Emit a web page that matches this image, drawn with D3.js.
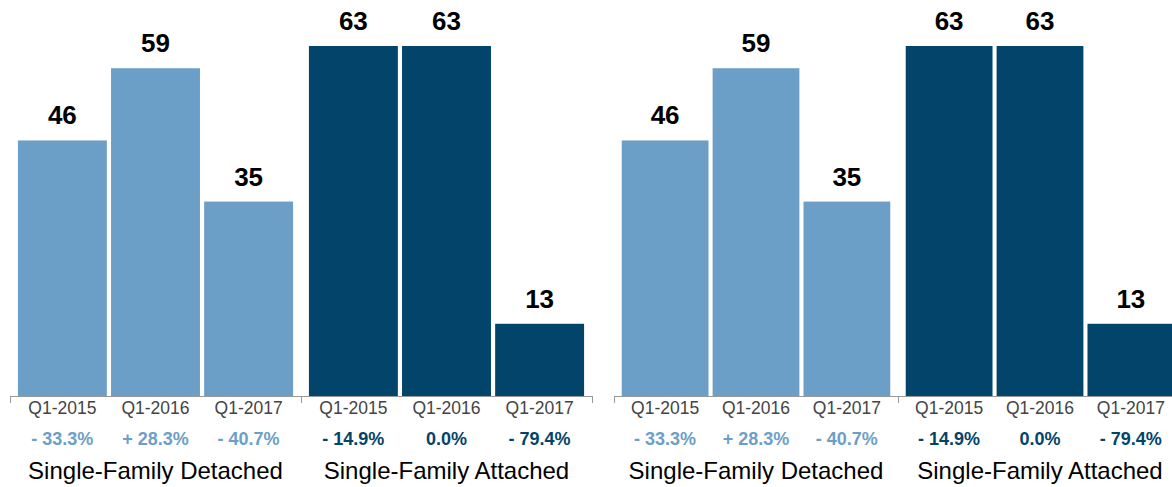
<!DOCTYPE html>
<html lang="en">
	<head>
		<meta charset="utf-8">
		<title>Single-family sales by quarter</title>
		<script src="https://d3js.org/d3.v7.min.js"></script>
		<style type="text/css">
		body { margin: 0; background: #fff; }
		text { font-family: "Liberation Sans", Arial, Helvetica, sans-serif; }
		</style>
	</head>
	<body>
		<script type="text/javascript">

			//Data
			var groups = ["Single-Family Detached", "Single-Family Attached"];
			var quarters = ["Q1-2015", "Q1-2016", "Q1-2017"];
			var detachedValues = [46, 59, 35];
			var attachedValues = [63, 63, 13];
			var detachedChange = ["- 33.3%", "+ 28.3%", "- 40.7%"];
			var attachedChange = ["- 14.9%", "0.0%", "- 79.4%"];
			var groupColors = ["#6c9fc8", "#03446a"];

			var rows = [
				{ group: groups[0], values: detachedValues, change: detachedChange, color: groupColors[0] },
				{ group: groups[1], values: attachedValues, change: attachedChange, color: groupColors[1] }
			];

			//Width and height
			var w = 1172;
			var h = 487;
			var baseY = 396;

			var svg = d3.select("body")
						.append("svg")
						.attr("width", w)
						.attr("height", h);

			//Same vertical scale for both panels
			var y = d3.scaleLinear()
						.domain([0, 63])
						.range([baseY, 46]);

			//The picture has the same chart twice, the second one a bit narrower
			var panels = [
				{ x0: 10, width: 582 },
				{ x0: 614, width: 568 }
			];

			panels.forEach(function(p) {

				var gx = d3.scaleBand()
							.domain(groups)
							.range([p.x0, p.x0 + p.width]);

				var qx = d3.scaleBand()
							.domain(quarters)
							.range([0, gx.bandwidth()])
							.paddingInner(0.045)
							.paddingOuter(0.085);

				var panel = svg.append("g");

				var grp = panel.selectAll("g.grp")
							.data(rows)
							.enter()
							.append("g")
							.attr("class", "grp")
							.attr("transform", function(d) { return "translate(" + gx(d.group) + ",0)"; });

				//bars
				grp.selectAll("rect")
					.data(function(d) {
						return d.values.map(function(v, i) { return { q: quarters[i], v: v, color: d.color }; });
					})
					.enter()
					.append("rect")
					.attr("x", function(d) { return qx(d.q); })
					.attr("y", function(d) { return y(d.v); })
					.attr("width", qx.bandwidth())
					.attr("height", function(d) { return baseY - y(d.v); })
					.style("fill", function(d) { return d.color; });

				//value on top
				grp.selectAll("text.val")
					.data(function(d) { return d.values.map(function(v, i) { return { q: quarters[i], v: v }; }); })
					.enter()
					.append("text")
					.attr("class", "val")
					.attr("x", function(d) { return qx(d.q) + qx.bandwidth() / 2; })
					.attr("y", function(d) { return y(d.v) - 16; })
					.attr("text-anchor", "middle")
					.style("font-size", "26px")
					.style("font-weight", "bold")
					.style("fill", "#000")
					.text(function(d) { return d.v; });

				//quarter labels
				grp.selectAll("text.q")
					.data(quarters)
					.enter()
					.append("text")
					.attr("class", "q")
					.attr("x", function(d) { return qx(d) + qx.bandwidth() / 2; })
					.attr("y", 414)
					.attr("text-anchor", "middle")
					.style("font-size", "17.5px")
					.style("fill", "#444")
					.text(function(d) { return d; });

				//percent change
				grp.selectAll("text.pct")
					.data(function(d) { return d.change.map(function(c, i) { return { q: quarters[i], c: c, color: d.color }; }); })
					.enter()
					.append("text")
					.attr("class", "pct")
					.attr("x", function(d) { return qx(d.q) + qx.bandwidth() / 2; })
					.attr("y", 445)
					.attr("text-anchor", "middle")
					.style("font-size", "18px")
					.style("font-weight", "bold")
					.style("fill", function(d) { return d.color; })
					.text(function(d) { return d.c; });

				//group title
				grp.append("text")
					.attr("x", gx.bandwidth() / 2)
					.attr("y", 479)
					.attr("text-anchor", "middle")
					.style("font-size", "24px")
					.style("fill", "#000")
					.text(function(d) { return d.group; });

				//axis line with ticks at the group edges
				var edges = groups.map(function(g) { return gx(g); }).concat([p.x0 + p.width]);
				panel.append("line")
					.attr("x1", p.x0).attr("x2", p.x0 + p.width)
					.attr("y1", baseY + 0.5).attr("y2", baseY + 0.5)
					.style("stroke", "#999");
				panel.selectAll("line.tick")
					.data(edges)
					.enter()
					.append("line")
					.attr("class", "tick")
					.attr("x1", function(d) { return Math.round(d) + 0.5; })
					.attr("x2", function(d) { return Math.round(d) + 0.5; })
					.attr("y1", baseY)
					.attr("y2", baseY + 7)
					.style("stroke", "#999");
			});

		</script>
	</body>
</html>
